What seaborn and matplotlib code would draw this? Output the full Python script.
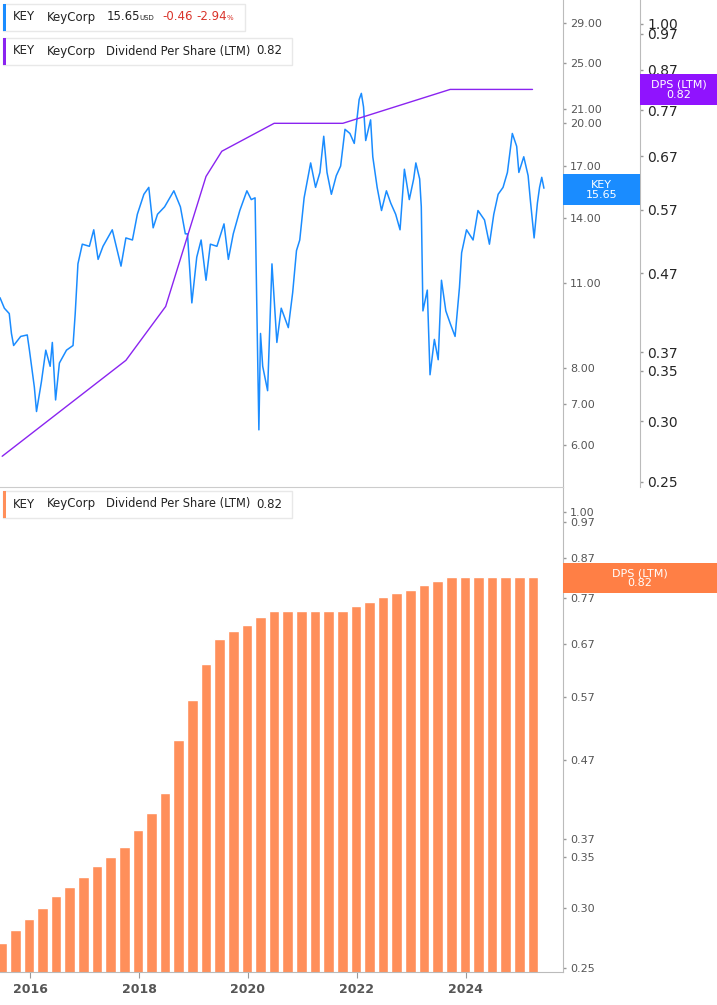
import numpy as np
import pandas as pd
import seaborn as sns
import matplotlib.pyplot as plt
from matplotlib.patches import Rectangle
from matplotlib.ticker import NullLocator

# KEY share price (decimal year, USD)
price_years = [2015.45, 2015.53, 2015.62, 2015.66, 2015.70, 2015.83, 2015.95, 2015.99, 2016.08, 2016.12,
               2016.21, 2016.29, 2016.37, 2016.41, 2016.47, 2016.54, 2016.67, 2016.79, 2016.83, 2016.88,
               2016.96, 2017.09, 2017.17, 2017.25, 2017.34, 2017.51, 2017.67, 2017.76, 2017.88, 2017.97,
               2018.09, 2018.18, 2018.26, 2018.34, 2018.47, 2018.64, 2018.76, 2018.85, 2018.89, 2018.97,
               2019.06, 2019.14, 2019.23, 2019.31, 2019.43, 2019.56, 2019.64, 2019.73, 2019.85, 2019.98,
               2020.06, 2020.13, 2020.16, 2020.20, 2020.23, 2020.27, 2020.36, 2020.44, 2020.53, 2020.61,
               2020.74, 2020.82, 2020.89, 2020.95, 2021.03, 2021.15, 2021.24, 2021.32, 2021.39, 2021.45,
               2021.53, 2021.62, 2021.70, 2021.78, 2021.87, 2021.95, 2022.04, 2022.08, 2022.12, 2022.16,
               2022.25, 2022.29, 2022.37, 2022.45, 2022.54, 2022.62, 2022.71, 2022.79, 2022.87, 2022.96,
               2023.04, 2023.08, 2023.15, 2023.18, 2023.21, 2023.29, 2023.34, 2023.42, 2023.49, 2023.55,
               2023.63, 2023.71, 2023.80, 2023.88, 2023.92, 2024.01, 2024.13, 2024.22, 2024.34, 2024.43,
               2024.51, 2024.59, 2024.68, 2024.76, 2024.85, 2024.93, 2024.97, 2025.06, 2025.14, 2025.18,
               2025.25, 2025.31, 2025.35, 2025.39, 2025.43]
price = [10.4, 10.0, 9.8, 9.1, 8.7, 9.0, 9.05, 8.55, 7.45, 6.8,
         7.6, 8.55, 8.05, 8.8, 7.1, 8.15, 8.55, 8.7, 9.8, 11.8,
         12.7, 12.6, 13.4, 12.0, 12.6, 13.4, 11.7, 13.0, 12.9, 14.2,
         15.3, 15.7, 13.5, 14.2, 14.6, 15.5, 14.6, 13.2, 13.2, 10.2,
         12.1, 12.9, 11.1, 12.7, 12.6, 13.7, 12.0, 13.2, 14.4, 15.5,
         15.0, 15.1, 10.3, 6.35, 9.1, 8.05, 7.35, 11.8, 8.8, 10.0,
         9.3, 10.6, 12.4, 12.9, 15.1, 17.2, 15.7, 16.6, 19.0, 16.6,
         15.3, 16.4, 17.0, 19.5, 19.2, 18.5, 21.8, 22.3, 21.2, 18.7,
         20.2, 17.6, 15.7, 14.4, 15.5, 14.8, 14.2, 13.4, 16.8, 15.0,
         16.2, 17.2, 16.2, 14.6, 9.9, 10.7, 7.8, 8.9, 8.25, 11.1,
         9.9, 9.45, 9.0, 10.8, 12.3, 13.4, 12.9, 14.4, 13.9, 12.7,
         14.2, 15.3, 15.7, 16.6, 19.2, 18.3, 16.6, 17.6, 16.4, 15.0,
         13.0, 14.8, 15.7, 16.3, 15.65]

# Dividend per share (LTM), quarterly
dps_years = [2015.48 + 0.25 * i for i in range(40)]
dps = [0.270, 0.281, 0.290, 0.300, 0.311, 0.320, 0.330, 0.341, 0.350, 0.361,
       0.380, 0.400, 0.425, 0.500, 0.565, 0.630, 0.680, 0.696, 0.710, 0.727,
       0.740, 0.740, 0.740, 0.740, 0.740, 0.740, 0.751, 0.760, 0.772, 0.781,
       0.790, 0.800, 0.810, 0.820, 0.820, 0.820, 0.820, 0.820, 0.820, 0.820]

# DPS line in top panel (sparser points)
dps_line_years = [2015.49, 2017.76, 2018.49, 2019.23, 2019.52, 2020.48, 2021.74, 2023.71, 2025.22]
dps_line = [0.270, 0.361, 0.425, 0.630, 0.680, 0.740, 0.740, 0.820, 0.820]

price_ticks = [6, 7, 8, 11, 14, 17, 20, 21, 25, 29]
dps_ticks = [0.25, 0.30, 0.35, 0.37, 0.47, 0.57, 0.67, 0.77, 0.87, 0.97, 1.00]
year_ticks = [2016, 2018, 2020, 2022, 2024]

BLUE = "#1a8cff"
PURPLE = "#8a24f0"
ORANGE = "#ff8f5a"
GREY = "#555555"
plt.rcParams["font.family"] = "Roboto"
sns.set_style("white")

W, H = 717, 1005
fig = plt.figure(figsize=(W / 100, H / 100), dpi=100)


def fx(px):
    return px / W


def fy(py):
    return 1 - py / H


def style_y(ax, ticks, lim):
    ax.set_yscale("log")
    ax.set_ylim(*lim)
    ax.yaxis.tick_right()
    ax.set_yticks(ticks)
    ax.set_yticklabels([f"{t:.2f}" for t in ticks], color=GREY, fontsize=8)
    ax.yaxis.set_minor_locator(NullLocator())
    ax.tick_params(axis="y", left=False, right=True, labelleft=False, labelright=True,
                   length=2, width=1, color="#999999", pad=3)
    ax.set_ylabel("")


# ---------------- top panel ----------------
ax1 = fig.add_axes([0, fy(487), fx(563), 487 / H])
sns.lineplot(x=price_years, y=price, ax=ax1, color=BLUE, linewidth=1.1, sort=False, estimator=None)
ax1.set_xlim(2015.45, 2025.78)
ax1.set_xticks([])

ax1b = ax1.twinx()
sns.lineplot(x=dps_line_years, y=dps_line, ax=ax1b, color=PURPLE, linewidth=1.0, sort=False, estimator=None)
style_y(ax1b, dps_ticks, (0.246, 1.075))
ax1b.spines["right"].set_position(("axes", 640 / 563))
ax1b.spines["right"].set_color("#bbbbbb")
for s in ["top", "left", "bottom"]:
    ax1b.spines[s].set_visible(False)

style_y(ax1, price_ticks, (5.13, 31.6))
for s in ["top", "left", "bottom"]:
    ax1.spines[s].set_visible(False)
ax1.spines["right"].set_visible(True)
ax1.spines["right"].set_color("#bbbbbb")

# ---------------- bottom panel ----------------
ax2 = fig.add_axes([0, fy(972), fx(563), 485 / H])
sns.barplot(x=dps_years, y=dps, ax=ax2, native_scale=True, color=ORANGE, width=0.78, saturation=1)
ax2.set_xlim(2015.45, 2025.78)
style_y(ax2, dps_ticks, (0.247, 1.079))
ax2.set_xticks(year_ticks)
ax2.set_xticklabels([str(y) for y in year_ticks], color=GREY, fontsize=9, fontweight="bold")
ax2.tick_params(axis="x", bottom=True, length=4, color="#999999", pad=4)
ax2.spines["left"].set_visible(False)
ax2.spines["top"].set_color("#cccccc")
for s in ["right", "bottom"]:
    ax2.spines[s].set_color("#bbbbbb")

# ---------------- legend boxes ----------------
def legend_box(x0, y0, x1, y1, color):
    fig.patches.append(Rectangle((fx(x0), fy(y1)), fx(x1 - x0), (y1 - y0) / H, transform=fig.transFigure,
                                 facecolor="white", edgecolor="#e8e8e8", linewidth=1))
    fig.patches.append(Rectangle((fx(x0), fy(y1)), fx(3), (y1 - y0) / H, transform=fig.transFigure,
                                 facecolor=color, edgecolor="none"))


def txt(x, y, s, color="#222222", size=8.5, weight="medium"):
    fig.text(fx(x), fy(y), s, color=color, fontsize=size, fontweight=weight, va="center", ha="left")


legend_box(3, 4, 245, 31, BLUE)
txt(13, 17, "KEY")
txt(47, 17, "KeyCorp")
txt(107, 17, "15.65")
txt(139, 18.5, "USD", size=5)
txt(162, 17, "-0.46", color="#d9342b")
txt(196, 17, "-2.94", color="#d9342b")
txt(227, 18.5, "%", color="#d9342b", size=5)

for top, col in [(38, PURPLE), (491, ORANGE)]:
    legend_box(3, top, 292, top + 27, col)
    yc = top + 13
    txt(13, yc, "KEY")
    txt(47, yc, "KeyCorp")
    txt(106, yc, "Dividend Per Share (LTM)", weight="normal", size=8.3)
    txt(256, yc, "0.82")

# ---------------- value tags ----------------
def tag(x0, y0, x1, y1, color, lines):
    fig.patches.append(Rectangle((fx(x0), fy(y1)), fx(x1 - x0), (y1 - y0) / H, transform=fig.transFigure,
                                 facecolor=color, edgecolor="none"))
    fig.text(fx((x0 + x1) / 2), fy((y0 + y1) / 2), lines, color="white", fontsize=8,
             ha="center", va="center", linespacing=1.0)


tag(563, 174, 640, 205, BLUE, "KEY\n15.65")
tag(640, 74, 717, 105, "#9013fe", "DPS (LTM)\n0.82")
tag(563, 563, 717, 593, "#ff7f45", "DPS (LTM)\n0.82")

fig.savefig("out.png", dpi=100)
